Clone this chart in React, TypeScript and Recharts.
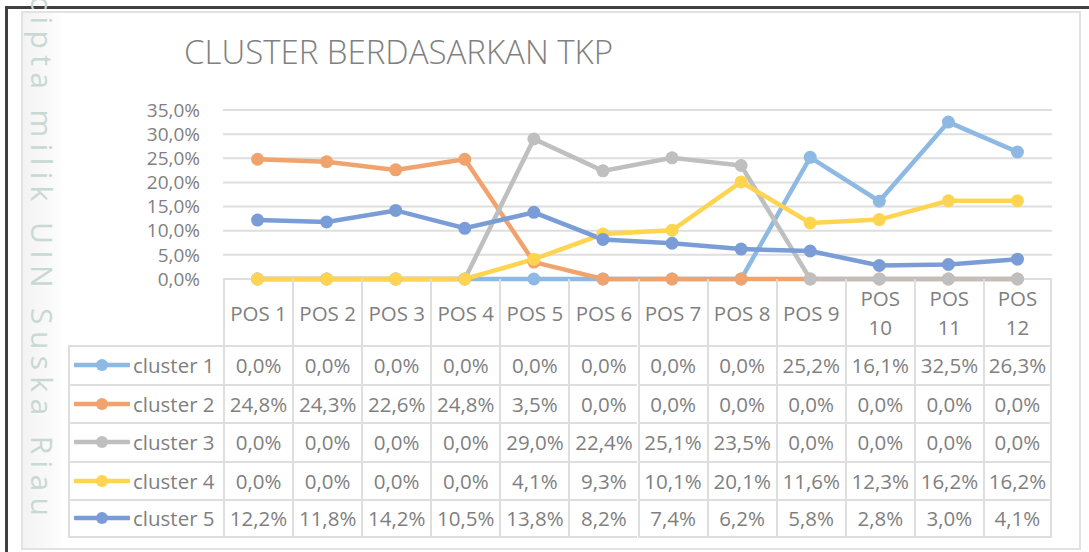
import React from 'react';
import { LineChart, Line, XAxis, YAxis, CartesianGrid } from 'recharts';

const categories = ['POS 1', 'POS 2', 'POS 3', 'POS 4', 'POS 5', 'POS 6', 'POS 7', 'POS 8', 'POS 9', 'POS 10', 'POS 11', 'POS 12'];
const cluster1 = [0, 0, 0, 0, 0, 0, 0, 0, 25.2, 16.1, 32.5, 26.3];
const cluster2 = [24.8, 24.3, 22.6, 24.8, 3.5, 0, 0, 0, 0, 0, 0, 0];
const cluster3 = [0, 0, 0, 0, 29.0, 22.4, 25.1, 23.5, 0, 0, 0, 0];
const cluster4 = [0, 0, 0, 0, 4.1, 9.3, 10.1, 20.1, 11.6, 12.3, 16.2, 16.2];
const cluster5 = [12.2, 11.8, 14.2, 10.5, 13.8, 8.2, 7.4, 6.2, 5.8, 2.8, 3.0, 4.1];
const yTicks = [0, 5, 10, 15, 20, 25, 30, 35];

const series = [
  { key: 'cluster 1', values: cluster1, color: '#8DB9E2' },
  { key: 'cluster 2', values: cluster2, color: '#F1A36D' },
  { key: 'cluster 3', values: cluster3, color: '#BFBFBF' },
  { key: 'cluster 4', values: cluster4, color: '#FFD44F' },
  { key: 'cluster 5', values: cluster5, color: '#7B9DD7' },
];

const data = categories.map((c, i) => {
  const row: any = { name: c };
  series.forEach((s) => (row[s.key] = s.values[i]));
  return row;
});

const fmt = (v: number) => `${v.toFixed(1).replace('.', ',')}%`;

// layout
const W = 1089;
const H = 552;
const plotLeft = 223;
const plotRight = 1052;
const plotTop = 110;
const plotBottom = 279;
const bandW = (plotRight - plotLeft) / categories.length;
const legendLeft = 68;
const headerBottom = 345;
const rowH = 38.5;
const font = '"Open Sans", "Noto Sans", sans-serif';
const textColor = '#7f7f7f';
const gridColor = '#dedede';

const LegendIcon = ({ color }: { color: string }) => (
  <svg width={56} height={14} style={{ display: 'block', flex: 'none' }}>
    <line x1={1} y1={7} x2={55} y2={7} stroke={color} strokeWidth={4.5} strokeLinecap="round" />
    <circle cx={28} cy={7} r={6} fill={color} />
  </svg>
);

export default function App() {
  const cells: React.ReactNode[] = [];

  // header row (category labels)
  categories.forEach((c, i) => {
    const lines = c.length > 5 ? c.split(' ') : [c];
    cells.push(
      <div
        key={`h-${i}`}
        style={{
          position: 'absolute',
          left: plotLeft + i * bandW,
          top: plotBottom,
          width: bandW,
          height: headerBottom - plotBottom,
          borderLeft: `2px solid ${gridColor}`,
          borderRight: i === categories.length - 1 ? `2px solid ${gridColor}` : undefined,
          boxSizing: 'border-box',
          display: 'flex',
          flexDirection: 'column',
          justifyContent: 'center',
          alignItems: 'center',
          lineHeight: '29px',
          paddingTop: 2,
          whiteSpace: 'nowrap',
        }}
      >
        {lines.map((l, j) => (
          <span key={j}>{l}</span>
        ))}
      </div>
    );
  });

  // data rows
  series.forEach((s, r) => {
    const top = headerBottom + r * rowH;
    cells.push(
      <div
        key={`l-${r}`}
        style={{
          position: 'absolute',
          left: legendLeft,
          top,
          width: plotLeft - legendLeft,
          height: rowH,
          borderTop: `2px solid ${gridColor}`,
          borderLeft: `2px solid ${gridColor}`,
          borderBottom: r === series.length - 1 ? `2px solid ${gridColor}` : undefined,
          boxSizing: 'border-box',
          display: 'flex',
          alignItems: 'center',
          paddingLeft: 4,
          gap: 3,
          whiteSpace: 'nowrap',
        }}
      >
        <LegendIcon color={s.color} />
        <span>{s.key}</span>
      </div>
    );
    s.values.forEach((v, i) => {
      cells.push(
        <div
          key={`c-${r}-${i}`}
          style={{
            position: 'absolute',
            left: plotLeft + i * bandW,
            top,
            width: bandW,
            height: rowH,
            borderTop: `2px solid ${gridColor}`,
            borderLeft: `2px solid ${gridColor}`,
            borderRight: i === categories.length - 1 ? `2px solid ${gridColor}` : undefined,
            borderBottom: r === series.length - 1 ? `2px solid ${gridColor}` : undefined,
            boxSizing: 'border-box',
            display: 'flex',
            alignItems: 'center',
            justifyContent: 'center',
            whiteSpace: 'nowrap',
          }}
        >
          {fmt(v)}
        </div>
      );
    });
  });

  return (
    <div
      style={{
        position: 'absolute',
        left: 0,
        top: 0,
        width: W,
        height: H,
        background: '#fff',
        overflow: 'hidden',
        fontFamily: font,
        fontSize: 20.5,
        color: textColor,
      }}
    >
      {/* page frame */}
      <div style={{ position: 'absolute', left: 5, top: 6, width: W, height: H, borderTop: '3px solid #404040', borderLeft: '3px solid #404040' }} />
      {/* chart area border */}
      <div style={{ position: 'absolute', left: 21, top: 11, width: 1060, height: 539, border: '2px solid #e2e2e2', boxSizing: 'border-box' }} />
      <div style={{ position: 'absolute', left: 23, top: 13, width: 40, height: 535, background: 'linear-gradient(90deg, #f3f3f3, #fafafa 70%, #fff)' }} />

      {/* watermark */}
      <svg width={60} height={H} style={{ position: 'absolute', left: 14, top: 0 }}>
        <text
          transform="translate(17, -92) rotate(90)"
          fontSize={30}
          fill="#c8d8d3"
          textLength={608}
          lengthAdjust="spacing"
          fontFamily={font}
        >
          Hak cipta milik UIN Suska Riau
        </text>
      </svg>

      <div style={{ position: 'absolute', left: 184, top: 35, fontSize: 33, fontWeight: 300, lineHeight: 1, color: '#808080', whiteSpace: 'nowrap' }}>
        CLUSTER BERDASARKAN TKP
      </div>

      <div style={{ position: 'absolute', left: 0, top: 0 }}>
        <LineChart
          width={W}
          height={300}
          data={data}
          margin={{ top: plotTop, right: W - plotRight, bottom: 300 - plotBottom, left: plotLeft - 80 }}
        >
          <CartesianGrid vertical={false} stroke={gridColor} strokeWidth={2} />
          <XAxis dataKey="name" hide padding={{ left: bandW / 2, right: bandW / 2 }} />
          <YAxis
            width={80}
            domain={[0, 35]}
            ticks={yTicks}
            tickFormatter={fmt}
            axisLine={false}
            tickLine={false}
            tickMargin={17}
            interval={0}
            tick={{ fill: textColor, fontSize: 19, fontFamily: font }}
          />
          {series.map((s) => (
            <Line
              key={s.key}
              dataKey={s.key}
              stroke={s.color}
              strokeWidth={4.5}
              dot={{ r: 6.5, fill: s.color, stroke: 'none' }}
              activeDot={false}
              isAnimationActive={false}
            />
          ))}
        </LineChart>
      </div>

      {cells}
    </div>
  );
}
